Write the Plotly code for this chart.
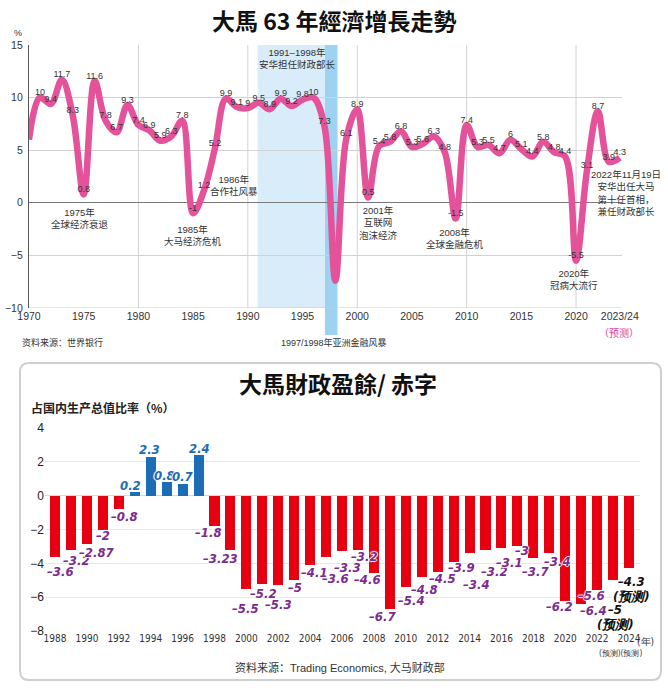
import plotly.graph_objects as go

# ---------------- Data ----------------
gdp_years = list(range(1970, 2025))
gdp_growth = [6.0, 10, 9.4, 11.7, 8.3, 0.8, 11.6, 7.8, 6.7, 9.3,
              7.4, 6.9, 5.9, 6.3, 7.8, -1, 1.2, 5.2, 9.9, 9.1,
              9, 9.5, 8.9, 9.9, 9.2, 9.8, 10, 7.3, -7.4, 6.1,
              8.9, 0.5, 5.4, 5.8, 6.8, 5.3, 5.6, 6.3, 4.8, -1.5,
              7.4, 5.3, 5.5, 4.7, 6, 5.1, 4.4, 5.8, 4.8, 4.4,
              -5.5, 3.1, 8.7, 3.9, 4.3]
gdp_unlabeled_years = [1970, 1998]
gdp_xticks = [1970, 1975, 1980, 1985, 1990, 1995, 2000, 2005, 2010, 2015, 2020, 2024]
gdp_xticktext = ["1970", "1975", "1980", "1985", "1990", "1995", "2000", "2005",
                 "2010", "2015", "2020", "2023/24"]

fiscal_years = list(range(1988, 2025))
fiscal_balance = [-3.6, -3.2, -2.87, -2, -0.8, 0.2, 2.3, 0.8, 0.7, 2.4,
                  -1.8, -3.23, -5.5, -5.2, -5.3, -5, -4.1, -3.6, -3.3, -3.2,
                  -4.6, -6.7, -5.4, -4.8, -4.5, -3.9, -3.4, -3.2, -3.1, -3,
                  -3.7, -3.4, -6.2, -6.4, -5.6, -5, -4.3]
fiscal_forecast_years = [2023, 2024]
fiscal_xticks = list(range(1988, 2025, 2))

# label placement (pixels: right shift, distance beyond bar end), hand-placed like the original
label_offsets = {
    1988: (5, 15), 1989: (6, 11), 1990: (10, 8), 1991: (0, 6), 1992: (6, 7),
    1993: (-4, 7), 1994: (-1, 7), 1995: (-2, 7), 1996: (0, 7), 1997: (1, 7),
    1998: (-6, 6), 1999: (-10, 8), 2000: (-1, 20), 2001: (1, 10), 2002: (0, 19),
    2003: (1, 7), 2004: (4, 7), 2005: (9, 22), 2006: (5, 16), 2007: (7, 7),
    2008: (-6, 6), 2009: (-7, 7), 2010: (6, 13), 2011: (3, 13), 2012: (5, 7),
    2013: (8, 6), 2014: (7, 31), 2015: (9, 22), 2016: (8, 14), 2017: (5, 4),
    2018: (2, 13), 2019: (8, 8), 2020: (-6, 6), 2021: (12, 7), 2022: (-6, 5),
    2023: (2, 29), 2024: (2, 13),
}

W, H = 668, 690
def PX(x): return x / W
def PY(y): return 1 - y / H

PINK = "#e4529a"
RED = "#e60012"
BLUE = "#1b6db5"
PURPLE = "#7b2b8e"
BASE = "Liberation Sans, Noto Sans CJK SC, sans-serif"
NARROW = "Liberation Sans Narrow, Arial Narrow, DejaVu Sans Condensed, Liberation Sans, sans-serif"
HALO = "1px 0 1px #fff, -1px 0 1px #fff, 0 1px 1px #fff, 0 -1px 1px #fff"

fig = go.Figure()

# ---- Top: GDP growth line ----
gdp_text = ["" if y in gdp_unlabeled_years else f"{v:g}" for y, v in zip(gdp_years, gdp_growth)]
fig.add_trace(go.Scatter(
    x=gdp_years, y=gdp_growth, mode="lines+text",
    line=dict(color=PINK, width=6.5, shape="spline", smoothing=1.0),
    text=gdp_text, textposition="top center",
    textfont=dict(size=9, color="#333", family=BASE),
    xaxis="x", yaxis="y", showlegend=False, cliponaxis=False,
))

# ---- Bottom: fiscal balance bars ----
bar_colors = [BLUE if v > 0 else RED for v in fiscal_balance]
fig.add_trace(go.Bar(
    x=fiscal_years, y=fiscal_balance, marker=dict(color=bar_colors, line=dict(width=0)),
    width=0.63, cliponaxis=False, xaxis="x2", yaxis="y2", showlegend=False,
))

shapes = [
    dict(type="rect", xref="x", yref="y", x0=1990.9, x1=1997.05, y0=-10, y1=15,
         fillcolor="#d8ecfa", line=dict(width=0), layer="below"),
    dict(type="rect", xref="x", yref="paper", x0=1997.05, x1=1998.2, y0=PY(335), y1=PY(45),
         fillcolor="#9dd2f1", line=dict(width=0), layer="below"),
]
x0, x1, yt, yb = PX(20), PX(661), PY(363), PY(680)
rx, ry = 9 / W, 9 / H
path = (f"M {x0+rx},{yt} L {x1-rx},{yt} Q {x1},{yt} {x1},{yt-ry} L {x1},{yb+ry} "
        f"Q {x1},{yb} {x1-rx},{yb} L {x0+rx},{yb} Q {x0},{yb} {x0},{yb+ry} "
        f"L {x0},{yt-ry} Q {x0},{yt} {x0+rx},{yt} Z")
shapes.append(dict(type="path", xref="paper", yref="paper", path=path,
                   line=dict(color="#cfcfcf", width=2), fillcolor="rgba(0,0,0,0)"))


def ann(x, y, text, font, xref="paper", yref="paper", xanchor="center", yanchor="middle", **kw):
    return dict(xref=xref, yref=yref, x=x, y=y, text=text, showarrow=False, font=font,
                xanchor=xanchor, yanchor=yanchor, **kw)


ann_font = dict(size=9.5, color="#333", family=BASE)
annotations = [
    ann(PX(334), PY(20), "<b>大馬 63 年經濟增長走勢</b>",
        dict(size=23, color="#111", family="Noto Sans CJK TC, sans-serif")),
    ann(PX(18), PY(33), "%", dict(size=9, color="#333", family=BASE)),
    ann(1974.7, -1.45, "1975年<br>全球经济衰退", ann_font, "x", "y"),
    ann(1985.0, -3.1, "1985年<br>大马经济危机", ann_font, "x", "y"),
    ann(1988.7, 1.67, "1986年<br>合作社风暴", ann_font, "x", "y"),
    ann(1994.5, 13.67, "1991–1998年<br>安华担任财政部长", ann_font, "x", "y"),
    ann(2001.9, -1.9, "2001年<br>互联网<br>泡沫经济", ann_font, "x", "y"),
    ann(2008.95, -3.38, "2008年<br>全球金融危机", ann_font, "x", "y"),
    ann(2019.8, -7.33, "2020年<br>冠病大流行", ann_font, "x", "y"),
    ann(PX(626), PY(192.5), "2022年11月19日<br>安华出任大马<br>第十任首相，<br>兼任财政部长",
        ann_font, align="center"),
    ann(PX(619), PY(333), "（预测）", dict(size=10, color="#e0408a", family=BASE)),
    ann(PX(20), PY(343), "资料来源：世界银行", dict(size=9, color="#333", family=BASE), xanchor="left"),
    ann(PX(334), PY(343), "1997/1998年亚洲金融风暴", dict(size=9, color="#333", family=BASE)),
    # bottom chart
    ann(PX(338), PY(383), "<b>大馬財政盈餘/ 赤字</b>",
        dict(size=23, color="#111", family="Noto Sans CJK TC, sans-serif")),
    ann(PX(29), PY(407), "<b>占国内生产总值比率（%）</b>",
        dict(size=12, color="#222", family="Noto Sans CJK SC, sans-serif"), xanchor="left"),
    ann(PX(645), PY(641), "(年)", dict(size=10, color="#333", family=NARROW)),
    ann(PX(620), PY(653), "(预测)(预测)", dict(size=8, color="#333", family=NARROW)),
    ann(PX(340), PY(667), "资料来源：Trading Economics, 大马财政部",
        dict(size=11, color="#333", family=BASE)),
]

# value labels of the bars
for y, v in zip(fiscal_years, fiscal_balance):
    dx, dist = label_offsets[y]
    s = f"{v:g}".replace("-", "–")
    if y in fiscal_forecast_years:
        color = "#111"
    else:
        color = BLUE if v > 0 else PURPLE
    font = dict(family=NARROW, size=13, color=color, weight="bold", style="italic", shadow=HALO)
    dy = dist if v > 0 else -dist
    annotations.append(ann(y, v, s, font, "x2", "y2", xshift=dx, yshift=dy))
    if y in fiscal_forecast_years:
        annotations.append(ann(y, v, "(预测)", font, "x2", "y2", xshift=dx, yshift=dy - 15))

fig.update_layout(
    width=W, height=H, margin=dict(l=0, r=0, t=0, b=0, autoexpand=False),
    paper_bgcolor="white", plot_bgcolor="rgba(0,0,0,0)",
    font=dict(family=BASE, color="#333"),
    shapes=shapes, annotations=annotations, bargap=0,
    xaxis=dict(domain=[PX(29), PX(622)], range=[1970, 2024.2], anchor="y", automargin=False,
               tickvals=gdp_xticks, ticktext=gdp_xticktext, tickfont=dict(size=10.5, color="#333"),
               showgrid=False, zeroline=False, showline=False, ticks=""),
    yaxis=dict(domain=[PY(308), PY(45)], range=[-10, 15], dtick=5, anchor="x", automargin=False,
               tickfont=dict(size=10.5, color="#333"), showgrid=True, gridcolor="#d2d2d2",
               gridwidth=1, zeroline=True, zerolinecolor="#7a7a7a", zerolinewidth=1.2,
               showline=True, linecolor="#555", linewidth=1.2, ticks="", ticklabelstandoff=3),
    xaxis2=dict(domain=[PX(45), PX(640)], range=[1987.37, 2024.69], anchor="y2", automargin=False,
                tickvals=fiscal_xticks, tickfont=dict(size=10, color="#333", family=NARROW),
                showgrid=False, zeroline=False, showline=False, ticks=""),
    yaxis2=dict(domain=[PY(631), PY(428)], range=[-8, 4], dtick=2, anchor="x2", automargin=False,
                tickfont=dict(size=12, color="#222"), showgrid=True, gridcolor="#e8e8e8",
                zeroline=True, zerolinecolor="#d8d8d8", zerolinewidth=1, showline=False, ticks=""),
)

for yr in [1980, 1990, 2000, 2010, 2020]:
    fig.add_shape(type="line", xref="x", yref="y", x0=yr, x1=yr, y0=-10, y1=15,
                  line=dict(color="#d2d2d2", width=1), layer="below")
fig.add_shape(type="line", xref="x", yref="y", x0=1970, x1=2024.2, y0=-10, y1=-10,
              line=dict(color="#cccccc", width=1), layer="below")

fig.write_html("out.html")
